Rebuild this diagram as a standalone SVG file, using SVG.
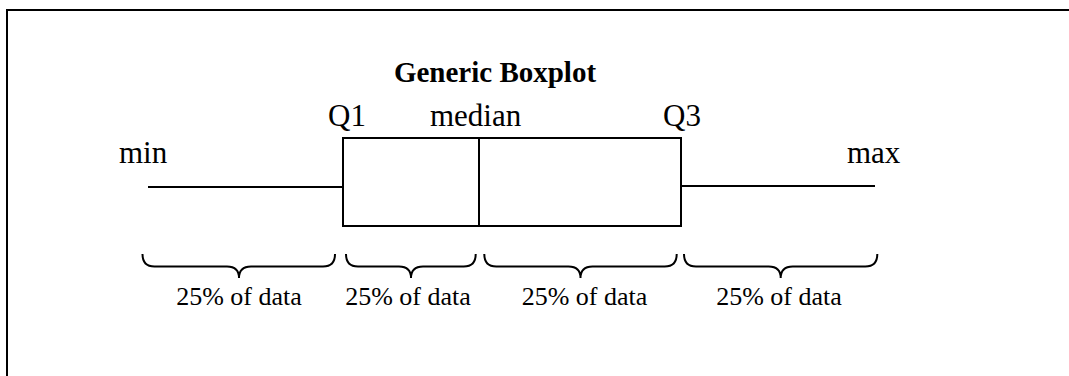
<svg xmlns="http://www.w3.org/2000/svg" width="1069" height="376" viewBox="0 0 1069 376">
<style>
.t{font-family:"Liberation Serif","Times New Roman",serif;fill:#000}
.lbl{font-size:31px}
.pct{font-size:26px;text-anchor:middle}
.ln{stroke:#000;stroke-width:2;fill:none}
</style>
<rect x="0" y="0" width="1069" height="376" fill="#fff"/>
<rect id="frame" x="7" y="10" width="1080" height="400" class="ln"/>
<g id="title"><text class="t" x="495" y="82" font-size="29" font-weight="bold" text-anchor="middle">Generic Boxplot</text></g>
<g id="box">
<rect x="343" y="138" width="338" height="88" class="ln"/>
<line x1="479" y1="138" x2="479" y2="226" class="ln"/>
</g>
<g id="connectors">
<line id="whisker-left" x1="148" y1="187" x2="343" y2="187" class="ln"/>
<line id="whisker-right" x1="681" y1="186" x2="875" y2="186" class="ln"/>
</g>
<g id="labels">
<text class="t lbl" x="119" y="163">min</text>
<text class="t lbl" x="847" y="163">max</text>
<text class="t lbl" x="328" y="126">Q1</text>
<text class="t lbl" x="430" y="126">median</text>
<text class="t lbl" x="663" y="126">Q3</text>
</g>
<g id="brace1">
<path class="ln" d="M142.5,254 Q142.5,266.5 154.5,266.5 L227,266.5 Q239,266.5 239,278 Q239,266.5 251,266.5 L323,266.5 Q335,266.5 335,254"/>
<text class="t pct" x="239" y="305">25% of data</text>
</g>
<g id="brace2">
<path class="ln" d="M346,254 Q346,266.5 358,266.5 L399,266.5 Q411,266.5 411,278 Q411,266.5 423,266.5 L463.7,266.5 Q475.7,266.5 475.7,254"/>
<text class="t pct" x="408" y="305">25% of data</text>
</g>
<g id="brace3">
<path class="ln" d="M484.3,254 Q484.3,266.5 496.3,266.5 L568.5,266.5 Q580.5,266.5 580.5,278 Q580.5,266.5 592.5,266.5 L664.7,266.5 Q676.7,266.5 676.7,254"/>
<text class="t pct" x="584.5" y="305">25% of data</text>
</g>
<g id="brace4">
<path class="ln" d="M684,254 Q684,266.5 696,266.5 L768.7,266.5 Q780.7,266.5 780.7,278 Q780.7,266.5 792.7,266.5 L865.3,266.5 Q877.3,266.5 877.3,254"/>
<text class="t pct" x="779" y="305">25% of data</text>
</g>
</svg>
